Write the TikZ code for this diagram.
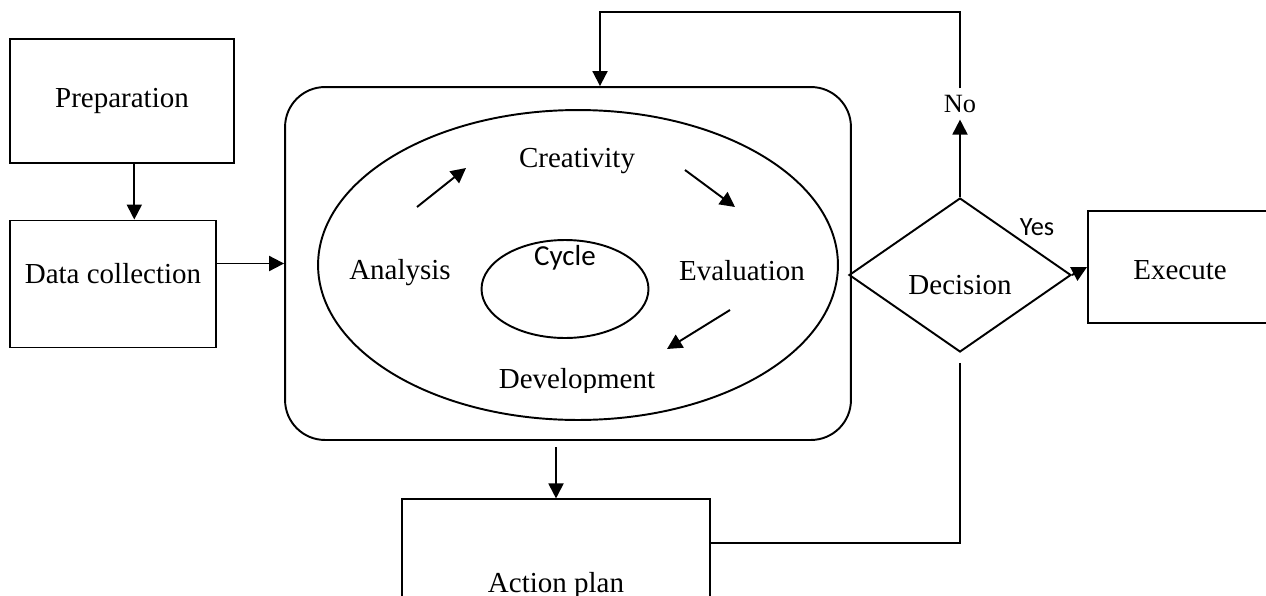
\documentclass[tikz,border=0pt]{standalone}
\usepackage{fontspec}
\setmainfont{Liberation Serif}
\newfontfamily\calibrifont{Carlito}
\usetikzlibrary{arrows.meta, shapes.geometric}
\tikzset{>={Triangle[length=3mm,width=3mm]}}

\begin{document}
\begin{tikzpicture}[x=0.02cm, y=-0.02cm, line width=1.1pt, font=\fontsize{16.5}{19}\selectfont,
    box/.style = {draw, rectangle, inner sep=0pt},
    ring/.style = {draw, ellipse, inner sep=0pt}]
  \path[use as bounding box, clip] (0,0) rectangle (1266,595);

  % left column
  \node[box, minimum width=4.48cm, minimum height=2.48cm] (preparation) at (122, 101) {Preparation};
  \node[box, minimum width=4.12cm, minimum height=2.54cm, text height=11pt, text depth=12pt] (data_collection) at (113, 284) {Data collection};

  % the cycle in the middle
  \node[box, rounded corners=0.8cm, minimum width=11.32cm, minimum height=7.06cm] (cycle_box) at (568, 263.5) {};
  \node[ring, minimum width=10.4cm, minimum height=6.2cm] (outer_ring) at (578, 265) {};
  \node[ring, minimum width=3.34cm, minimum height=1.96cm] (cycle) at (565, 289) {};
  \node[font=\calibrifont\fontsize{16.5}{19}\selectfont] (cycle_label) at (565, 258) {Cycle};
  \node (analysis) at (400, 273) {Analysis};
  \node (creativity) at (577, 161) {Creativity};
  \node (evaluation) at (742, 271) {Evaluation};
  \begin{scope}
    \clip (400, 300) rectangle (760, 392);
    \node (development) at (577, 382) {Development};
  \end{scope}
  \coordinate (an_from) at (417, 207);
  \coordinate (an_to) at (466, 168);
  \coordinate (cr_from) at (685, 170);
  \coordinate (cr_to) at (735, 207);
  \coordinate (ev_from) at (730, 310);
  \coordinate (ev_to) at (667, 349);
  \draw[->] (an_from) -- (an_to);
  \draw[->] (cr_from) -- (cr_to);
  \draw[->] (ev_from) -- (ev_to);

  % right side
  \node[draw, diamond, inner sep=0pt, minimum width=4.44cm, minimum height=3.08cm, text height=22.7pt, text depth=0pt] (decision) at (960, 275) {Decision};
  \node[box, minimum width=3.68cm, minimum height=2.24cm, text height=14.7pt, text depth=0pt] (execute) at (1180, 267) {Execute};
  \node (no) at (960, 104) {\fontsize{15}{18}\selectfont No};
  \node[font=\calibrifont\fontsize{15}{18}\selectfont] (yes) at (1037, 227) {Yes};
  \node[box, anchor=base, minimum width=6.16cm, text height=52.7pt, text depth=30pt] (action_plan) at (556, 592) {Action plan};

  \coordinate (loop_corner) at (600, 12);
  \coordinate (back_corner) at (960, 543);

  % connectors
  \draw[->] ([xshift=7pt]preparation.south) -- ([xshift=7pt]preparation.south |- data_collection.north);
  \draw[->] (data_collection.east |- cycle_box.west) -- (cycle_box.west);
  \draw[->, shorten <=3.5pt] (cycle_box.south -| action_plan.north) -- (action_plan.north);
  \draw[->] (decision.north) -- (no.south);
  \draw[->] (no.north) |- (loop_corner) -- (loop_corner |- cycle_box.north);
  \draw[->] (decision.east) -- (execute.west);
  \draw[shorten <=5.7pt] (decision.south) -- (back_corner) -- (back_corner -| action_plan.east);
\end{tikzpicture}
\end{document}
